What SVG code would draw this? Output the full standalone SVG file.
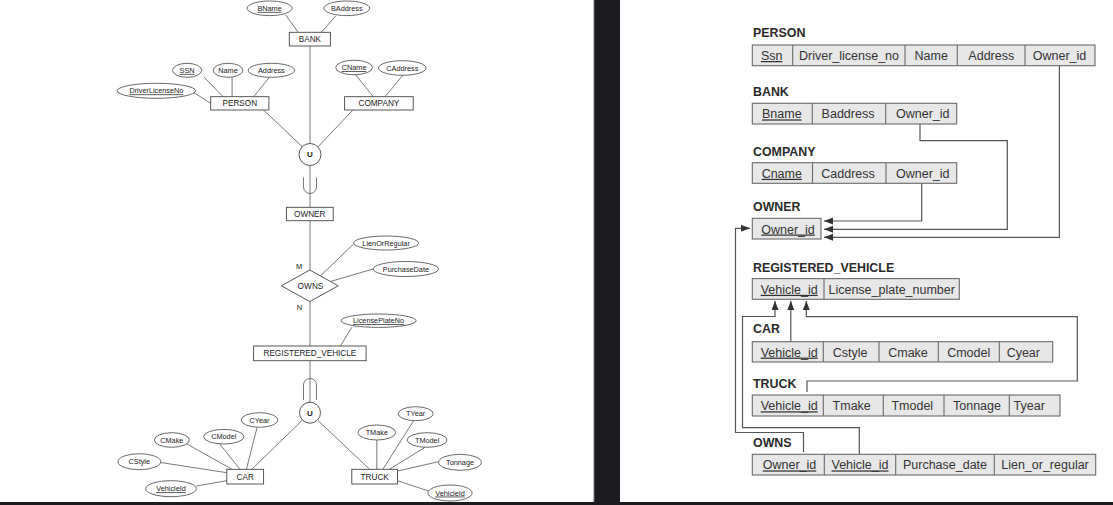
<svg xmlns="http://www.w3.org/2000/svg" width="1113" height="505" viewBox="0 0 1113 505">
<style>
.bg{fill:#1c1b20}
.panel{fill:#ffffff}
.ent rect{fill:#fff;stroke:#444;stroke-width:0.9}
.ent text,.attr text,.rel text,.un text,.card{font-family:"Liberation Sans",Arial,sans-serif;fill:#222;text-anchor:middle}
.ent text{font-size:8.2px}
.attr ellipse{fill:#fff;stroke:#444;stroke-width:0.8}
.attr text{font-size:7.3px}
.key{text-decoration:underline}
.un circle{fill:#fff;stroke:#444;stroke-width:0.9}
.un text{font-size:8px;font-weight:bold}
.rel polygon{fill:#fff;stroke:#444;stroke-width:0.9}
.rel text{font-size:8.3px}
.card{font-size:7.5px}
.conn line,.conn path{stroke:#555;stroke-width:0.8;fill:none}
.tbl rect{fill:#e7e7e7;stroke:#6a6a6a;stroke-width:1.1}
.tbl line{stroke:#6a6a6a;stroke-width:1.1}
.tbl text{font-family:"Liberation Sans",Arial,sans-serif;font-size:12.5px;fill:#333;text-anchor:middle}
.tbl text.title{font-weight:bold;font-size:12.4px;text-anchor:start;fill:#2a2a2a}
.fk path{stroke:#555;stroke-width:1.2;fill:none}
</style>
<defs>
<marker id="ah" markerUnits="userSpaceOnUse" markerWidth="10" markerHeight="8" refX="9" refY="3.5" orient="auto">
<path d="M0,0 L9,3.5 L0,7 z" fill="#333"/>
</marker>
</defs>
<rect class="bg" x="0" y="0" width="1113" height="505"/>
<rect class="panel" x="0" y="0" width="594" height="502"/>
<line x1="594" y1="0" x2="594" y2="502" stroke="#777" stroke-width="1"/>
<rect class="panel" x="620" y="0" width="493" height="502"/>

<!-- Left ER diagram: connectors -->
<g id="er-connectors" class="conn">
<line x1="285.7" y1="15" x2="298.2" y2="32.3"/>
<line x1="335.7" y1="16" x2="321.4" y2="32.3"/>
<line x1="310" y1="46" x2="310" y2="143.5"/>
<line x1="203.6" y1="76.7" x2="223.2" y2="96.7"/>
<line x1="232.1" y1="77.3" x2="232.1" y2="96.7"/>
<line x1="269.6" y1="77" x2="253.6" y2="96.7"/>
<line x1="192.9" y1="92" x2="210.7" y2="103.3"/>
<line x1="355.4" y1="74.5" x2="373.2" y2="96.7"/>
<line x1="402.9" y1="75.3" x2="385" y2="96.7"/>
<line x1="263.6" y1="110" x2="302.5" y2="147"/>
<line x1="352.9" y1="110" x2="317.8" y2="147"/>
<line x1="310" y1="165.5" x2="310" y2="207.3"/>
<path d="M303.5,177.5 V187 A6.5,6.5 0 0 0 316.5,187 V177.5"/>
<line x1="310" y1="220.7" x2="310" y2="270"/>
<line x1="353.6" y1="244" x2="320.4" y2="275.9"/>
<line x1="373.2" y1="269" x2="330.4" y2="281.5"/>
<line x1="310" y1="301.6" x2="310" y2="346"/>
<line x1="351.8" y1="327.3" x2="340.4" y2="346"/>
<line x1="310" y1="360.7" x2="310" y2="402.2"/>
<path d="M303.5,400 V385 A6.5,6.5 0 0 1 316.5,385 V400"/>
<line x1="251.8" y1="469.3" x2="302" y2="420.5"/>
<line x1="318" y1="420.5" x2="369.6" y2="469.3"/>
<line x1="257.1" y1="427.3" x2="246.4" y2="469.3"/>
<line x1="219.6" y1="443.8" x2="240" y2="469.3"/>
<line x1="186" y1="443.5" x2="232.1" y2="469.3"/>
<line x1="160.7" y1="462.5" x2="226.8" y2="472.7"/>
<line x1="196.4" y1="486" x2="226.8" y2="480.7"/>
<line x1="376.8" y1="440" x2="376.8" y2="469.3"/>
<line x1="413.6" y1="420.7" x2="382.9" y2="469.3"/>
<line x1="425" y1="447.3" x2="389.3" y2="469.3"/>
<line x1="438.6" y1="461.7" x2="397.5" y2="471"/>
<line x1="428.5" y1="491" x2="397.5" y2="480.7"/>
</g>

<!-- Entities -->
<g id="e-bank" class="ent"><rect x="289.3" y="32.3" width="41.1" height="13.7"/><text x="309.9" y="42.2">BANK</text></g>
<g id="e-person" class="ent"><rect x="210.7" y="96.7" width="58.2" height="13.3"/><text x="239.8" y="106.3">PERSON</text></g>
<g id="e-company" class="ent"><rect x="344.6" y="96.7" width="68.6" height="13.3"/><text x="378.9" y="106.3">COMPANY</text></g>
<g id="e-owner" class="ent"><rect x="286.4" y="207.3" width="46.8" height="13.4"/><text x="309.8" y="217">OWNER</text></g>
<g id="e-regveh" class="ent"><rect x="253.6" y="346" width="112.5" height="14.7"/><text x="309.9" y="356.3">REGISTERED_VEHICLE</text></g>
<g id="e-car" class="ent"><rect x="226.8" y="469.3" width="36.8" height="14.7"/><text x="245.2" y="479.7">CAR</text></g>
<g id="e-truck" class="ent"><rect x="351.8" y="469.3" width="45.7" height="14.7"/><text x="374.7" y="479.7">TRUCK</text></g>

<!-- Union categories -->
<g id="u-owner" class="un"><circle cx="310" cy="154.5" r="11"/><text x="310" y="157.4">U</text></g>
<g id="u-vehicle" class="un"><circle cx="310" cy="412.7" r="10.5"/><text x="310" y="415.6">U</text></g>

<!-- Relationship -->
<g id="r-owns" class="rel"><polygon points="281.4,285.8 309.8,270 338.2,285.8 309.8,301.6"/><text x="310.5" y="288.8">OWNS</text></g>
<text class="card" x="299" y="268.7">M</text>
<text class="card" x="299.5" y="310">N</text>

<!-- Attributes -->
<g id="a-bname" class="attr"><ellipse cx="269.6" cy="8.3" rx="22.5" ry="7.3"/><text class="key" x="269.6" y="10.9">BName</text></g>
<g id="a-baddress" class="attr"><ellipse cx="346.8" cy="8.3" rx="22.9" ry="7.3"/><text x="346.8" y="10.9">BAddress</text></g>
<g id="a-ssn" class="attr"><ellipse cx="187.1" cy="70.3" rx="14.6" ry="7"/><text class="key" x="187.1" y="72.9">SSN</text></g>
<g id="a-name" class="attr"><ellipse cx="228" cy="70.3" rx="14.8" ry="7"/><text x="228" y="72.9">Name</text></g>
<g id="a-address" class="attr"><ellipse cx="271.4" cy="70.3" rx="23.2" ry="7"/><text x="271.4" y="72.9">Address</text></g>
<g id="a-dln" class="attr"><ellipse cx="156.4" cy="90.8" rx="39.3" ry="7.5"/><text class="key" x="156.4" y="93.4">DriverLicenseNo</text></g>
<g id="a-cname" class="attr"><ellipse cx="354.1" cy="67.5" rx="18.4" ry="7.3"/><text class="key" x="354.1" y="70.1">CName</text></g>
<g id="a-caddress" class="attr"><ellipse cx="402.3" cy="68" rx="23.8" ry="7.3"/><text x="402.3" y="70.6">CAddress</text></g>
<g id="a-lien" class="attr"><ellipse cx="386.1" cy="243" rx="32.5" ry="7"/><text x="386.1" y="245.6">LienOrRegular</text></g>
<g id="a-pdate" class="attr"><ellipse cx="405.9" cy="269" rx="32.7" ry="7.5"/><text x="405.9" y="271.6">PurchaseDate</text></g>
<g id="a-lpn" class="attr"><ellipse cx="378.6" cy="320.7" rx="37.5" ry="6.7"/><text class="key" x="378.6" y="323.3">LicensePlateNo</text></g>
<g id="a-cyear" class="attr"><ellipse cx="259.5" cy="420" rx="18.4" ry="7.3"/><text x="259.5" y="422.6">CYear</text></g>
<g id="a-cmodel" class="attr"><ellipse cx="223.8" cy="436.7" rx="20.2" ry="7.3"/><text x="223.8" y="439.3">CModel</text></g>
<g id="a-cmake" class="attr"><ellipse cx="171.8" cy="440" rx="17.5" ry="7.3"/><text x="171.8" y="442.6">CMake</text></g>
<g id="a-cstyle" class="attr"><ellipse cx="139.3" cy="461.7" rx="21.4" ry="8"/><text x="139.3" y="464.3">CStyle</text></g>
<g id="a-cvid" class="attr"><ellipse cx="171" cy="488.7" rx="25.4" ry="8"/><text class="key" x="171" y="491.3">VehicleId</text></g>
<g id="a-tyear" class="attr"><ellipse cx="415.7" cy="413.7" rx="17.5" ry="7"/><text x="415.7" y="416.3">TYear</text></g>
<g id="a-tmake" class="attr"><ellipse cx="376.8" cy="432.5" rx="18.9" ry="7.5"/><text x="376.8" y="435.1">TMake</text></g>
<g id="a-tmodel" class="attr"><ellipse cx="427.1" cy="440" rx="20" ry="7.3"/><text x="427.1" y="442.6">TModel</text></g>
<g id="a-tonnage" class="attr"><ellipse cx="460" cy="462.3" rx="21.4" ry="8"/><text x="460" y="464.9">Tonnage</text></g>
<g id="a-tvid" class="attr"><ellipse cx="450" cy="493" rx="22.1" ry="8"/><text class="key" x="450" y="495.6">VehicleId</text></g>

<!-- Right relational schema: foreign key connectors -->
<g id="fk-connectors" class="fk">
<path d="M1059.4,65.7 V237.3 H824" marker-end="url(#ah)"/>
<path d="M920,124 V140.7 H1007.3 V229.3 H824" marker-end="url(#ah)"/>
<path d="M921.7,183.3 V221 H824" marker-end="url(#ah)"/>
<path d="M803.5,452 V432.5 H735.5 V228.3 H750" marker-end="url(#ah)"/>
<path d="M859.3,454.3 V427.7 H742.5 V316.5 H775 V301" marker-end="url(#ah)"/>
<path d="M790.8,341.7 V301" marker-end="url(#ah)"/>
<path d="M807,392 V381 H1077.3 V316.7 H806.3 V301" marker-end="url(#ah)"/>
</g>

<g id="t-person" class="tbl">
<text class="title" x="753" y="37.3">PERSON</text>
<rect x="752.3" y="45" width="342.7" height="20.7"/>
<line x1="792.7" y1="45" x2="792.7" y2="65.7"/><line x1="905" y1="45" x2="905" y2="65.7"/><line x1="957.3" y1="45" x2="957.3" y2="65.7"/><line x1="1025" y1="45" x2="1025" y2="65.7"/>
<text class="key" x="771.7" y="60">Ssn</text><text x="849" y="60">Driver_license_no</text><text x="931.2" y="60">Name</text><text x="991.3" y="60">Address</text><text x="1059.5" y="60">Owner_id</text>
</g>
<g id="t-bank" class="tbl">
<text class="title" x="753" y="95.7">BANK</text>
<rect x="752.3" y="103.3" width="204.4" height="20.7"/>
<line x1="812.3" y1="103.3" x2="812.3" y2="124"/><line x1="885.7" y1="103.3" x2="885.7" y2="124"/>
<text class="key" x="781.8" y="118.4">Bname</text><text x="848" y="118.4">Baddress</text><text x="922.8" y="118.4">Owner_id</text>
</g>
<g id="t-company" class="tbl">
<text class="title" x="753" y="155.5">COMPANY</text>
<rect x="752.3" y="162.7" width="204.4" height="20.6"/>
<line x1="812.5" y1="162.7" x2="812.5" y2="183.3"/><line x1="886" y1="162.7" x2="886" y2="183.3"/>
<text class="key" x="781.8" y="177.8">Cname</text><text x="848" y="177.8">Caddress</text><text x="922.8" y="177.8">Owner_id</text>
</g>
<g id="t-owner" class="tbl">
<text class="title" x="753" y="210.7">OWNER</text>
<rect x="752.3" y="218.3" width="68.7" height="20.7"/>
<text class="key" x="788" y="233.5">Owner_id</text>
</g>
<g id="t-regveh" class="tbl">
<text class="title" x="753" y="271.7">REGISTERED_VEHICLE</text>
<rect x="752.3" y="278.6" width="207" height="20.7"/>
<line x1="824" y1="278.6" x2="824" y2="299.3"/>
<text class="key" x="789.2" y="293.8">Vehicle_id</text><text x="891.7" y="293.8">License_plate_number</text>
</g>
<g id="t-car" class="tbl">
<text class="title" x="753" y="333.3">CAR</text>
<rect x="752.3" y="341.7" width="300.4" height="20.3"/>
<line x1="823.3" y1="341.7" x2="823.3" y2="362"/><line x1="879" y1="341.7" x2="879" y2="362"/><line x1="938.3" y1="341.7" x2="938.3" y2="362"/><line x1="999.3" y1="341.7" x2="999.3" y2="362"/>
<text class="key" x="789.2" y="356.6">Vehicle_id</text><text x="850" y="356.6">Cstyle</text><text x="908" y="356.6">Cmake</text><text x="968.7" y="356.6">Cmodel</text><text x="1023.3" y="356.6">Cyear</text>
</g>
<g id="t-truck" class="tbl">
<text class="title" x="753" y="388">TRUCK</text>
<rect x="752.3" y="395" width="307.7" height="21"/>
<line x1="823.3" y1="395" x2="823.3" y2="416"/><line x1="883.3" y1="395" x2="883.3" y2="416"/><line x1="944" y1="395" x2="944" y2="416"/><line x1="1009.3" y1="395" x2="1009.3" y2="416"/>
<text class="key" x="789.2" y="410.3">Vehicle_id</text><text x="851.7" y="410.3">Tmake</text><text x="912.3" y="410.3">Tmodel</text><text x="977" y="410.3">Tonnage</text><text x="1029.2" y="410.3">Tyear</text>
</g>
<g id="t-owns" class="tbl">
<text class="title" x="753" y="446.7">OWNS</text>
<rect x="752.3" y="454.3" width="343.4" height="20.7"/>
<line x1="824.3" y1="454.3" x2="824.3" y2="475"/><line x1="895.7" y1="454.3" x2="895.7" y2="475"/><line x1="994.3" y1="454.3" x2="994.3" y2="475"/>
<text class="key" x="789.5" y="469.4">Owner_id</text><text class="key" x="860" y="469.4">Vehicle_id</text><text x="945" y="469.4">Purchase_date</text><text x="1045" y="469.4">Lien_or_regular</text>
</g>
</svg>
